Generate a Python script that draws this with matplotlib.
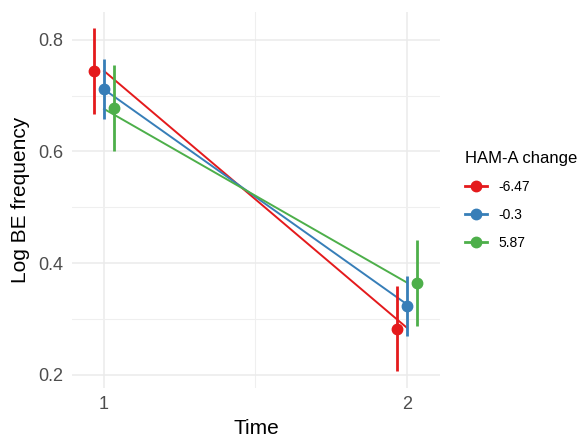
import matplotlib.pyplot as plt
from matplotlib.lines import Line2D

plt.rcParams["font.family"] = ["Liberation Sans", "DejaVu Sans"]

# data
times = [1, 2]
groups = ["-6.47", "-0.3", "5.87"]
colors = ["#E41A1C", "#377EB8", "#4DAF4A"]
fit = [[0.744, 0.284], [0.711, 0.326], [0.676, 0.365]]
means = [[0.744, 0.282], [0.712, 0.323], [0.678, 0.365]]
lower = [[0.667, 0.206], [0.658, 0.270], [0.601, 0.287]]
upper = [[0.821, 0.359], [0.765, 0.377], [0.755, 0.442]]
dodge = [-0.033, 0.0, 0.033]

fig = plt.figure(figsize=(5.85, 4.38), dpi=100)
ax = fig.add_axes([0.123, 0.114, 0.629, 0.859])

for i, g in enumerate(groups):
    c = colors[i]
    # fitted lines at the undodged positions
    ax.plot(times, fit[i], color=c, lw=1.4, zorder=2)
    xs = [t + dodge[i] for t in times]
    yerr = [[m - lo for m, lo in zip(means[i], lower[i])],
            [up - m for m, up in zip(means[i], upper[i])]]
    ax.errorbar(xs, means[i], yerr=yerr, fmt="o", color=c, ms=7.5,
                elinewidth=2.0, capsize=0, zorder=3)

ax.set_xlim(0.894, 2.109)
ax.set_ylim(0.176, 0.850)
ax.set_xticks([1, 2])
ax.set_xticks([1.5], minor=True)
ax.set_yticks([0.2, 0.4, 0.6, 0.8])
ax.set_yticks([0.3, 0.5, 0.7], minor=True)
ax.set_yticklabels(["0.2", "0.4", "0.6", "0.8"])
ax.grid(which="major", color="#EBEBEB", lw=1.1)
ax.grid(which="minor", color="#EFEFEF", lw=0.8)
ax.set_axisbelow(True)
for s in ax.spines.values():
    s.set_visible(False)
ax.tick_params(which="both", length=0, labelsize=13, labelcolor="#4D4D4D", pad=6)

ax.set_xlabel("Time", fontsize=15, labelpad=4)
ax.set_ylabel("Log BE frequency", fontsize=15, labelpad=6)

handles = [Line2D([0], [0], color=c, lw=2, marker="o", ms=7.5) for c in colors]
leg = fig.legend(handles, groups, title="HAM-A change", loc="upper left",
                 bbox_to_anchor=(0.773, 0.683), frameon=False, fontsize=10,
                 title_fontsize=12, handlelength=1.6, labelspacing=1.0,
                 handletextpad=0.8)
leg._legend_box.align = "left"

fig.savefig("out.png")
